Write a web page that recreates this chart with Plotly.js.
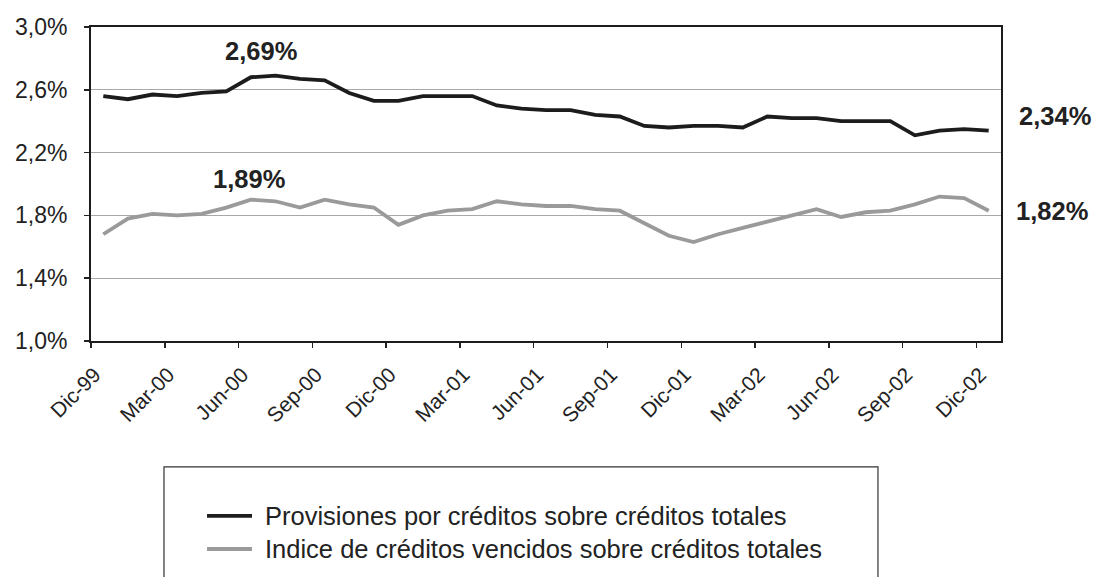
<!DOCTYPE html>
<html>
<head>
<meta charset="utf-8">
<script src="https://cdn.plot.ly/plotly-3.0.1.min.js"></script>
<style>html,body{margin:0;padding:0;background:#fff;}#chart{width:1094px;height:577px;}</style>
</head>
<body>
<div id="chart"></div>
<script>
// Monthly observations, Dic-99 .. Dic-02
var months = ["Dic-99","Ene-00","Feb-00","Mar-00","Abr-00","May-00","Jun-00","Jul-00","Ago-00","Sep-00","Oct-00","Nov-00",
              "Dic-00","Ene-01","Feb-01","Mar-01","Abr-01","May-01","Jun-01","Jul-01","Ago-01","Sep-01","Oct-01","Nov-01",
              "Dic-01","Ene-02","Feb-02","Mar-02","Abr-02","May-02","Jun-02","Jul-02","Ago-02","Sep-02","Oct-02","Nov-02","Dic-02"];
var provisiones = [2.56,2.54,2.57,2.56,2.58,2.59,2.68,2.69,2.67,2.66,2.58,2.53,
                   2.53,2.56,2.56,2.56,2.50,2.48,2.47,2.47,2.44,2.43,2.37,2.36,
                   2.37,2.37,2.36,2.43,2.42,2.42,2.40,2.40,2.40,2.31,2.34,2.35,2.34];
var vencidos = [1.68,1.78,1.81,1.80,1.81,1.85,1.90,1.89,1.85,1.90,1.87,1.85,
                1.74,1.80,1.83,1.84,1.89,1.87,1.86,1.86,1.84,1.83,1.75,1.67,
                1.63,1.68,1.72,1.76,1.80,1.84,1.79,1.82,1.83,1.87,1.92,1.91,1.83];
var seriesNames = ["Provisiones por créditos sobre créditos totales",
                   "Indice de créditos vencidos sobre créditos totales"];
var seriesColors = ["#1c1c1c", "#9a9a9a"];
var yTickVals = [1.0,1.4,1.8,2.2,2.6,3.0];
var yTickText = ["1,0%","1,4%","1,8%","2,2%","2,6%","3,0%"];
var xLabelEvery = 3;
var callouts = [
  {text:"2,69%", x:0.187, y:0.924},
  {text:"1,89%", x:0.174, y:0.516},
  {text:"2,34%", x:1.059, y:0.717},
  {text:"1,82%", x:1.056, y:0.414}
];

var idx = months.map(function(_, i){ return i; });
var xTickVals = [], xTickText = [], xMinor = [];
for (var i = 0; i < months.length; i += xLabelEvery) {
  xTickVals.push(i - 0.35); xTickText.push(months[i]); xMinor.push(i - 0.5);
}

var font = "Liberation Sans, Arial, Helvetica, sans-serif";
var traces = seriesNames.map(function(name, k){
  return {x: idx, y: k === 0 ? provisiones : vencidos, name: name, type: "scatter", mode: "lines",
          line: {color: seriesColors[k], width: 3.8}, hoverinfo: "skip", showlegend: false};
});

// legend drawn as a framed key below the plot
var legendRowsY = [-0.557, -0.6624];
var shapes = [
  {type: "rect", xref: "paper", yref: "paper", x0: 0.0802, x1: 0.8648, y0: -1.2, y1: -0.401,
   line: {color: "#333333", width: 1.2}, fillcolor: "rgba(0,0,0,0)", layer: "above"}
];
var annotations = callouts.map(function(c){
  return {text: c.text, xref: "paper", yref: "paper", x: c.x, y: c.y,
          xanchor: "center", yanchor: "middle", showarrow: false,
          font: {size: 25.5, color: "#222222", family: font, weight: "bold"}};
});
seriesNames.forEach(function(name, k){
  shapes.push({type: "line", xref: "paper", yref: "paper", x0: 0.1275, x1: 0.1769,
               y0: legendRowsY[k], y1: legendRowsY[k], line: {color: seriesColors[k], width: 3.8}});
  annotations.push({text: name, xref: "paper", yref: "paper", x: 0.189, y: legendRowsY[k],
                    xanchor: "left", yanchor: "middle", showarrow: false,
                    font: {size: 25.5, color: "#222222", family: font}});
});

var layout = {
  width: 1094, height: 577,
  margin: {l: 91, r: 93, t: 27, b: 236, pad: 0},
  paper_bgcolor: "#ffffff", plot_bgcolor: "#ffffff",
  font: {family: font, color: "#222222", size: 22},
  showlegend: false,
  xaxis: {
    range: [-0.5, months.length - 0.5],
    tickmode: "array", tickvals: xTickVals, ticktext: xTickText,
    tickangle: -45, ticks: "", ticklabelstandoff: 11,
    tickfont: {size: 21, color: "#222222", family: font},
    minor: {tickmode: "array", tickvals: xMinor, ticks: "outside", ticklen: 5, tickcolor: "#222222", tickwidth: 1.5, showgrid: false},
    showgrid: false, zeroline: false,
    showline: true, linecolor: "#1c1c1c", linewidth: 2, mirror: true
  },
  yaxis: {
    range: [1.0, 3.0],
    tickmode: "array", tickvals: yTickVals, ticktext: yTickText,
    ticks: "outside", ticklen: 5, tickcolor: "#222222", tickwidth: 1.5,
    ticklabelstandoff: 12,
    tickfont: {size: 23, color: "#222222", family: font},
    showgrid: true, gridcolor: "#a8a8a8", gridwidth: 1.2, zeroline: false,
    showline: true, linecolor: "#1c1c1c", linewidth: 2, mirror: true
  },
  shapes: shapes,
  annotations: annotations
};

Plotly.newPlot("chart", traces, layout, {staticPlot: true, displayModeBar: false});
</script>
</body>
</html>
